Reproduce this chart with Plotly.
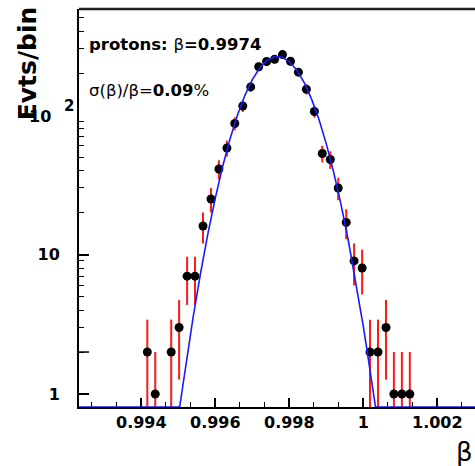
import numpy as np
import plotly.graph_objects as go

# ---- data ----
beta_centers = [0.994162, 0.994377, 0.994808, 0.995022, 0.995238, 0.995451, 0.995668,
                0.995884, 0.996097, 0.996314, 0.996527, 0.996743, 0.996957, 0.997173,
                0.997386, 0.997603, 0.997816, 0.998032, 0.998246, 0.998462, 0.998678,
                0.998892, 0.999108, 0.999322, 0.999538, 0.999751, 0.999968, 1.000181,
                1.000397, 1.000614, 1.000827, 1.001043, 1.001257]
counts = [2, 1, 2, 3, 7, 7, 16, 25, 41, 58, 87, 116, 159, 222, 242, 251, 271, 243,
          203, 153, 106, 53, 48, 30, 17, 9, 8, 2, 2, 3, 1, 1, 1]

# Gaussian fit curve (clipped at the frame bottom like ROOT)
fit_x = [0.99232, 0.99500, 0.99504, 0.99510, 0.99520, 0.99530, 0.99540, 0.99560,
         0.99580, 0.99600, 0.99620, 0.99640, 0.99660, 0.99680, 0.99700, 0.99720,
         0.99740, 0.99760, 0.99780, 0.99800, 0.99820, 0.99840, 0.99860, 0.99880,
         0.99900, 0.99920, 0.99940, 0.99960, 0.99980, 1.00000, 1.00010, 1.00020,
         1.00030, 1.00033, 1.00302]
fit_y = [0.807, 0.807, 0.82, 1.06, 1.61, 2.42, 3.55, 7.31, 14.1, 25.4, 42.9, 67.7,
         100.2, 138.5, 179.4, 217.3, 246.5, 261.6, 259.9, 241.6, 210.2, 171.2, 130.5,
         93.1, 62.1, 38.8, 22.7, 12.4, 6.36, 3.05, 2.06, 1.37, 0.89, 0.807, 0.807]

y_tickvals = [1, 10]
y_ticktext = ["1", "10"]
x_tickvals = [0.994, 0.996, 0.998, 1.0, 1.002]
x_ticktext = ["0.994", "0.996", "0.998", "1", "1.002"]
y_minor = [2, 3, 4, 5, 6, 7, 8, 9, 20, 30, 40, 50, 60, 70, 80, 90, 200, 300, 400, 500]
hundred = 100

err = np.sqrt(np.array(counts, dtype=float))

FONT = "DejaVu Sans"

fig = go.Figure()
fig.add_trace(go.Scatter(
    x=beta_centers, y=counts, mode="markers",
    marker=dict(color="black", size=9),
    error_y=dict(type="data", array=err, arrayminus=err, color="#ff1a1a",
                 thickness=2, width=0),
    showlegend=False,
))
fig.add_trace(go.Scatter(
    x=fit_x, y=fit_y, mode="lines",
    line=dict(color="#1a1aff", width=1.6),
    cliponaxis=False, showlegend=False,
))

fig.update_layout(
    width=475, height=466,
    margin=dict(l=79, r=0, t=9, b=59),
    paper_bgcolor="white", plot_bgcolor="white",
    xaxis=dict(
        range=[0.992316, 1.003019], showgrid=False, zeroline=False,
        showline=True, linecolor="black", linewidth=2, layer="below traces",
        ticks="inside", ticklen=9, tickwidth=1.5, tickcolor="black",
        tickmode="array", tickvals=x_tickvals, ticktext=x_ticktext,
        tickfont=dict(family=FONT, size=16, color="black", weight="bold"),
        ticklabelstandoff=0,
        minor=dict(ticks="inside", ticklen=5, tickwidth=1, tickcolor="black",
                   dtick=0.002 / 3, tick0=0.992),
    ),
    yaxis=dict(
        type="log", range=[-0.093, 2.760], showgrid=False, zeroline=False,
        showline=True, linecolor="black", linewidth=2, layer="below traces",
        ticks="inside", ticklen=10, tickwidth=1.5, tickcolor="black",
        tickmode="array", tickvals=y_tickvals, ticktext=y_ticktext,
        tickfont=dict(family=FONT, size=16, color="black", weight="bold"),
        ticklabelstandoff=14,
        minor=dict(ticks="inside", ticklen=5, tickwidth=1, tickcolor="black",
                   tickmode="array", tickvals=y_minor),
    ),
    shapes=[
        dict(type="line", xref="paper", yref="paper", x0=0, x1=1, y0=1, y1=1,
             line=dict(color="#222222", width=2.5)),
        # major tick at 10^2 (its label is drawn as annotations, ROOT style)
        dict(type="line", xref="paper", yref="y", x0=0, x1=10 / 396,
             y0=np.log10(hundred), y1=np.log10(hundred),
             line=dict(color="black", width=1.5)),
    ],
    annotations=[
        dict(text="<b>protons: </b>β<b>=0.9974</b>", xref="paper", yref="paper",
             x=0.020, y=0.912, xanchor="left", yanchor="middle", showarrow=False,
             font=dict(family=FONT, size=16.5, color="black")),
        dict(text="σ(β)/β=<b>0.09</b>%", xref="paper", yref="paper",
             x=0.020, y=0.794, xanchor="left", yanchor="middle", showarrow=False,
             font=dict(family=FONT, size=16.5, color="black")),
        dict(text="<b>Evts/bin</b>", xref="paper", yref="paper", textangle=-90,
             x=-0.131, y=0.864, xanchor="center", yanchor="middle", showarrow=False,
             font=dict(family=FONT, size=25, color="black")),
        dict(text="<b>10</b>", xref="paper", yref="y",
             x=-0.0657, y=np.log10(hundred), xanchor="right", yanchor="middle",
             yshift=-1, showarrow=False,
             font=dict(family=FONT, size=16, color="black")),
        dict(text="<b>2</b>", xref="paper", yref="y",
             x=-0.0076, y=np.log10(hundred), xanchor="right", yanchor="middle",
             yshift=9, showarrow=False,
             font=dict(family=FONT, size=15, color="black")),
        dict(text="β", xref="paper", yref="paper", x=1.0, y=-0.113,
             xanchor="right", yanchor="middle", showarrow=False,
             font=dict(family=FONT, size=26, color="black")),
    ],
)

fig.write_html("out.html")
